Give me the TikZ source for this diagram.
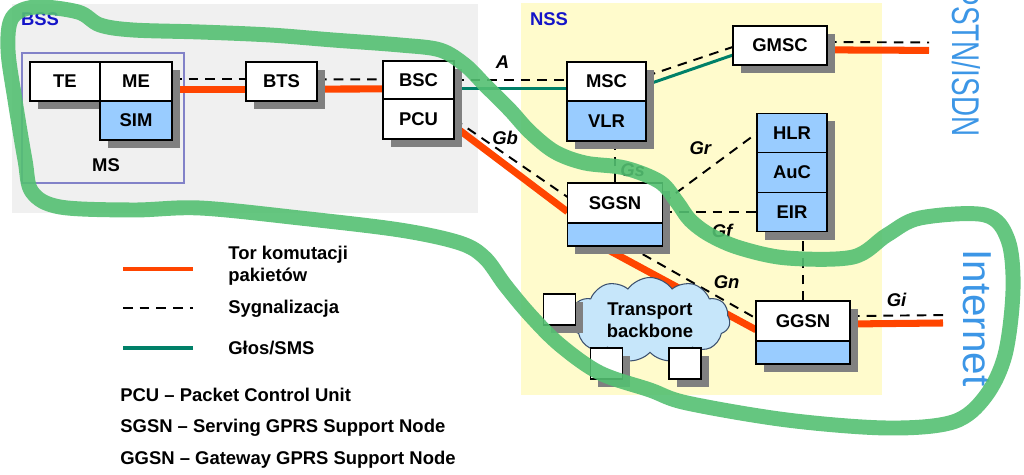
\documentclass[tikz,border=0pt]{standalone}
\usepackage{fontspec}
\setmainfont{Liberation Sans}
\usepackage{tikz}
\usetikzlibrary{positioning, shapes.symbols, shadows}
\definecolor{bssgray}{RGB}{240,240,240}
\definecolor{nssyellow}{RGB}{255,251,204}
\definecolor{boxblue}{RGB}{153,204,255}
\definecolor{shadowgray}{RGB}{128,128,128}
\definecolor{packetorange}{RGB}{255,69,0}
\definecolor{voiceteal}{RGB}{0,128,104}
\definecolor{areablue}{RGB}{20,20,200}
\definecolor{netblue}{RGB}{60,150,230}
\definecolor{cloudblue}{RGB}{198,230,250}
\definecolor{cloudedge}{RGB}{60,80,110}
\definecolor{markgreen}{RGB}{84,192,114}
\definecolor{msframe}{RGB}{130,130,200}
\newcommand{\boxfont}{\bfseries\fontsize{10.5}{12.5}\selectfont}
\newcommand{\labfont}{\bfseries\itshape\fontsize{10.5}{12.5}\selectfont}
\pgfdeclarelayer{bg}
\pgfdeclarelayer{lines}
\pgfsetlayers{bg,lines,main}
\tikzstyle{box} = [rectangle, draw=black, line width=0.8pt, fill=white, outer sep=0pt, inner sep=0pt, minimum height=0.78cm, text centered, font=\boxfont, general shadow={fill=shadowgray, shadow xshift=4.5pt, shadow yshift=-4.5pt}]
\tikzstyle{bluebox} = [box, fill=boxblue]
\tikzstyle{packet} = [packetorange, line width=4pt]
\tikzstyle{signal} = [black, line width=1.1pt, dash pattern=on 5.5pt off 4pt]
\tikzstyle{voice} = [voiceteal, line width=1.7pt]
\tikzstyle{iface} = [font=\labfont]
\tikzstyle{area} = [font=\boxfont, text=areablue]
\tikzstyle{legend} = [anchor=west, font=\boxfont, align=left, inner sep=0pt]
\tikzstyle{network} = [rotate=-90, text=netblue, inner sep=0pt]

\begin{document}
\begin{tikzpicture}[x=0.02cm, y=-0.02cm]
		\useasboundingbox (0,0) rectangle (1024,475);
		\clip (0,0) rectangle (1024,475);
		%tla obszarow
		\begin{pgfonlayer}{bg}
		\fill[bssgray] (12,4) rectangle (478,213);
		\fill[nssyellow] (521,3) rectangle (882,395);
		\draw[msframe, line width=0.6pt] (22,53) rectangle (184,183);
		\end{pgfonlayer}
		\node (bss) [area] at (40,19) {BSS};
		\node (nss) [area] at (549,19) {NSS};
		
		%BSS
		\node (te) [box, minimum width=1.4cm] at (65,81.5) {TE};
		\node (me) [box, minimum width=1.44cm, right=0pt of te] {ME};
		\node (sim) [bluebox, minimum width=1.44cm, below=0pt of me] {SIM};
		\node (ms) [font=\boxfont] at (106,165) {MS};
		\node (bts) [box, minimum width=1.42cm] at (281.5,81.5) {BTS};
		\node (bsc) [box, minimum width=1.42cm, minimum height=0.76cm] at (418.5,80) {BSC};
		\node (pcu) [box, minimum width=1.42cm, minimum height=0.8cm, below=0pt of bsc] {PCU};
		
		%NSS
		\node (msc) [box, minimum width=1.58cm] at (606.5,81.5) {MSC};
		\node (vlr) [bluebox, minimum width=1.58cm, minimum height=0.8cm, below=0pt of msc] {VLR};
		\node (gmsc) [box, minimum width=1.88cm] at (780,45.5) {GMSC};
		\node (sgsn) [box, minimum width=1.9cm, minimum height=0.8cm] at (615,203) {SGSN};
		\node (sgsnb) [bluebox, minimum width=1.9cm, minimum height=0.46cm, below=0pt of sgsn] {};
		\node (hlr) [bluebox, minimum width=1.4cm, minimum height=0.79cm] at (792,133) {HLR};
		\node (auc) [bluebox, minimum width=1.4cm, minimum height=0.79cm, below=0pt of hlr] {AuC};
		\node (eir) [bluebox, minimum width=1.4cm, minimum height=0.79cm, below=0pt of auc] {EIR};
		\node (backbone) [cloud, cloud puffs=11, cloud puff arc=110, aspect=1.9, draw=cloudedge, line width=0.6pt, fill=cloudblue, minimum width=3.2cm, minimum height=1.7cm, inner sep=0pt, font=\boxfont, align=center] at (650,320) {Transport\\backbone};
		\node (sq1) [box, minimum width=0.64cm, minimum height=0.62cm] at (559.5,309.5) {};
		\node (sq2) [box, minimum width=0.64cm, minimum height=0.62cm] at (606.5,363.5) {};
		\node (sq3) [box, minimum width=0.64cm, minimum height=0.62cm] at (685,363.5) {};
		\node (ggsn) [box, minimum width=1.88cm, minimum height=0.8cm] at (803,321) {GGSN};
		\node (ggsnb) [bluebox, minimum width=1.88cm, minimum height=0.46cm, below=0pt of ggsn] {};
		
		%sieci zewnetrzne
		\coordinate (pstn) at (929,46);
		\coordinate (inet) at (943,320);
		\node (pstnlabel) [network, font=\fontsize{22}{22}\selectfont] at (966,62) {\scalebox{0.72}[1]{PSTN/ISDN}};
		\node (inetlabel) [network, font=\fontsize{23}{23}\selectfont] at (977,318) {Internet};
		
		%polaczenia
		\begin{pgfonlayer}{lines}
		\draw [signal]([yshift=1.2pt]me.east) -- ([yshift=1.2pt]bts.west);
		\draw [packet]([yshift=-4.3pt]me.east) -- ([yshift=-4.3pt]bts.west);
		\draw [signal]([yshift=1.2pt]bts.east) -- ([yshift=0.4pt]bsc.west);
		\draw [packet]([yshift=-4.3pt]bts.east) -- ([yshift=-5.1pt]bsc.west);
		\draw [signal](bsc.east) -- node[iface, pos=0.43, yshift=10pt] {A} (bsc.east -| msc.west);
		\draw [voice]([yshift=-5pt]bsc.east) -- ([yshift=-5pt]bsc.east -| msc.west);
		\draw [signal]([yshift=3pt]msc.east) -- ([yshift=-0.8pt]gmsc.west);
		\draw [voice]([yshift=-2pt]msc.east) -- ([yshift=-5.4pt]gmsc.west);
		\draw [signal]([yshift=2pt]gmsc.east) -- ([yshift=2pt]pstn);
		\draw [packet]([yshift=-2.5pt]gmsc.east) -- ([yshift=-2.5pt]pstn);
		\draw [packet]([yshift=-4pt]pcu.east) -- ([yshift=-5pt]sgsn.west);
		\draw [signal](pcu.east) -- node[iface, pos=0.45, yshift=9.5pt] {Gb} ([yshift=3.4pt]sgsn.west);
		\draw [signal](sgsn.north) -- node[iface, pos=0.3, xshift=10pt] {Gs} (sgsn.north |- vlr.south);
		\draw [signal](sgsn.east) -- node[iface, pos=0.4, yshift=15pt] {Gr} (hlr.west);
		\draw [signal](eir.west -| sgsn.east) -- node[iface, pos=0.63, yshift=-11pt] {Gf} (eir.west);
		\draw [packet]([xshift=-8pt]sgsnb.south) -- ([yshift=-5pt]ggsn.west);
		\draw [signal]([xshift=7.5pt]sgsnb.south) -- node[iface, pos=0.77, yshift=11pt] {Gn} ([yshift=1.5pt]ggsn.west);
		\draw [signal](ggsn.north) -- (ggsn.north |- eir.south);
		\draw [signal]([yshift=2.8pt]ggsn.east) -- node[iface, pos=0.5, yshift=9pt] {Gi} ([yshift=2.8pt]inet);
		\draw [packet]([yshift=-1.7pt]ggsn.east) -- ([yshift=-1.7pt]inet);
		\end{pgfonlayer}
		
		%legenda
		\node (torlabel) [legend] at (228,266) {Tor komutacji\\pakietów};
		\node (syglabel) [legend] at (228,309) {Sygnalizacja};
		\node (gloslabel) [legend] at (228,348) {Głos/SMS};
		\draw [packet, line width=2pt] (123,269) -- (193,269);
		\draw [signal] (123,308) -- (193,308);
		\draw [voice, line width=2.2pt] (123,348) -- (193,348);
		\node (pcudef) [legend] at (120,395) {PCU – Packet Control Unit};
		\node (sgsndef) [legend] at (120,428) {SGSN – Serving GPRS Support Node};
		\node (ggsndef) [legend] at (120,460) {GGSN – Gateway GPRS Support Node};
		
		%zaznaczenie odreczne
		\draw [markgreen, line width=8.5pt, opacity=0.9, line join=round] plot[smooth cycle, tension=0.55] coordinates {(78,12) (100,25) (133,30) (200,32) (270,35) (333,40) (400,45) (440,50) (465,65) (485,85) (510,110) (530,132) (555,152) (585,163) (625,168) (660,182) (677,202) (690,220) (710,235) (740,248) (787,258) (853,257) (887,235) (920,218) (985,215) (1008,240) (1013,290) (1005,355) (985,397) (953,422) (887,428) (787,420) (687,403) (650,390) (600,373) (560,345) (530,315) (505,285) (485,258) (460,243) (400,230) (300,218) (200,208) (133,210) (60,207) (32,192) (25,160) (15,100) (8,50) (12,18) (35,7)};
	\end{tikzpicture}
\end{document}
